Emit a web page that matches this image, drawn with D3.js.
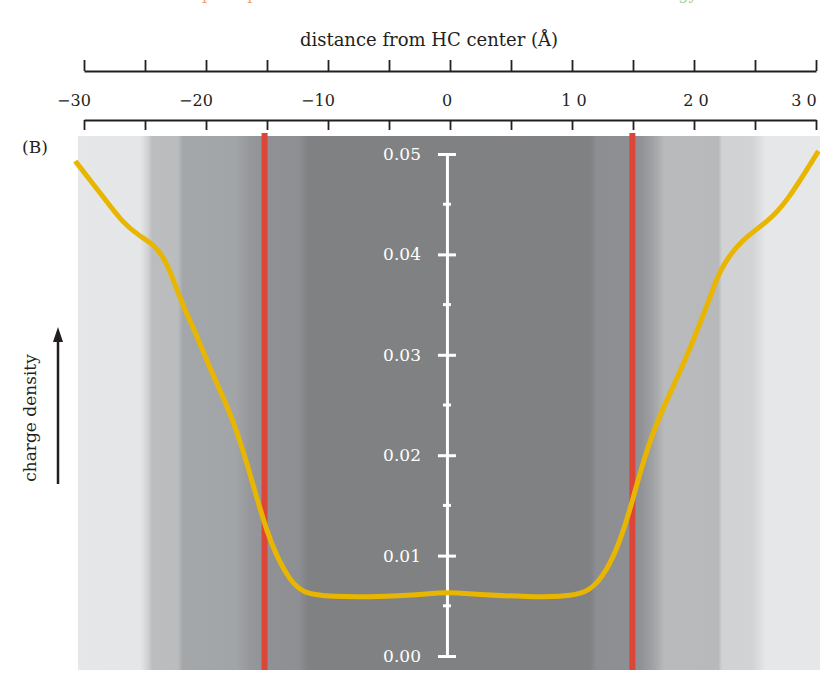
<!DOCTYPE html>
<html>
<head>
<meta charset="utf-8">
<script src="https://d3js.org/d3.v7.min.js"></script>
<style>
  body { margin: 0; background: #fff; }
  svg { display: block; }
  text { font-family: "DejaVu Serif", serif; }
</style>
</head>
<body>
<div class="chart"></div>
<script>
// charge density profile across the HC (distance in Å, density)
var profile = [
  [-30.7, 0.0493], [-30.6, 0.0491], [-28.4, 0.0457], [-26.8, 0.0431], [-25.4, 0.0418],
  [-24.3, 0.0410], [-23.5, 0.0398], [-22.7, 0.0376], [-21.9, 0.0349],
  [-20.7, 0.0318], [-19.7, 0.0287], [-18.3, 0.0250], [-17.5, 0.0225],
  [-16.6, 0.0190], [-15.8, 0.0156], [-15.0, 0.0124], [-14.2, 0.0099],
  [-13.1, 0.0075], [-12.0, 0.0062], [-9.8, 0.0059], [-5.7, 0.0059],
  [-2.5, 0.0061], [-0.8, 0.0063], [0.4, 0.0063], [2.5, 0.0061],
  [6.6, 0.0059], [9.0, 0.0059], [11.2, 0.0062], [12.5, 0.0078],
  [13.7, 0.0106], [14.75, 0.0145], [15.8, 0.0193], [17.0, 0.0235],
  [18.6, 0.0276], [19.9, 0.0313], [21.3, 0.0356], [22.1, 0.0385],
  [23.8, 0.0414], [26.0, 0.0432], [27.6, 0.0452], [30.1, 0.0501], [30.2, 0.0503]
];

// boundary markers (Å)
var boundaries = [-15.2, 14.95];

// shaded background regions: position (Å) and grey level
var bandStops = [
  [-30.5, '#e6e7e9'], [-25.4, '#e5e6e8'], [-24.8, '#d2d3d5'], [-24.4, '#bcbdbf'],
  [-22.3, '#bbbcbe'], [-21.9, '#a4a7aa'], [-17.6, '#a2a5a8'], [-16.4, '#96979a'],
  [-15.4, '#939497'], [-14.9, '#909195'], [-12.4, '#8e8f93'], [-11.6, '#808183'],
  [11.5, '#808183'], [12.0, '#8d8e92'], [14.6, '#8e8f93'], [15.6, '#8f9194'],
  [16.6, '#a0a1a4'], [17.6, '#b9babc'], [22.0, '#b8b9bb'], [22.3, '#d0d2d4'],
  [24.8, '#d1d3d5'], [25.9, '#e6e7e9'], [30.4, '#e6e7e9']
];

var xTicks = d3.range(-30, 31, 5);
var xLabelValues = [-30, -20, -10, 0, 10, 20, 30];
var xLabels = ['\u221230', '\u221220', '\u221210', '0', '1 0', '2 0', '3 0'];
var yTicks = [0, 0.01, 0.02, 0.03, 0.04, 0.05];
var yMinor = [0.005, 0.015, 0.025, 0.035, 0.045];

// cut-off caption fragments at the very top
var topFragments = [
  {text: 'p', x: -19.9, color: '#f4a36c'},
  {text: 'p', x: -16.2, color: '#f4a36c'},
  {text: 'gy', x: 19.5, color: '#a9d18e'}
];

var fullWidth = 820, fullHeight = 678;
var plotTop = 136, plotBottom = 670;

var svg = d3.select('.chart')
  .append('svg')
  .attr('width', fullWidth)
  .attr('height', fullHeight);

var xScale = d3.scaleLinear()
  .domain([-30, 30])
  .range([84, 816]);

var yScale = d3.scaleLinear()
  .domain([0, 0.05])
  .range([656, 154]);

// background gradient
var grad = svg.append('defs')
  .append('linearGradient')
  .attr('id', 'bands')
  .attr('gradientUnits', 'userSpaceOnUse')
  .attr('x1', xScale(-30.5)).attr('x2', xScale(30.4))
  .attr('y1', 0).attr('y2', 0);

grad.selectAll('stop')
  .data(bandStops)
  .enter()
  .append('stop')
  .attr('offset', d => (xScale(d[0]) - xScale(-30.5)) / (xScale(30.4) - xScale(-30.5)))
  .attr('stop-color', d => d[1]);

svg.append('rect')
  .attr('x', xScale(-30.5))
  .attr('y', plotTop)
  .attr('width', xScale(30.4) - xScale(-30.5))
  .attr('height', plotBottom - plotTop)
  .attr('fill', 'url(#bands)');

// top fragments (caption above is cut off in the source)
svg.selectAll('.frag')
  .data(topFragments)
  .enter()
  .append('text')
  .attr('class', 'frag')
  .attr('x', d => xScale(d.x))
  .attr('y', -1)
  .attr('text-anchor', 'middle')
  .style('font-size', '16px')
  .style('fill', d => d.color)
  .text(d => d.text);

// title
svg.append('text')
  .attr('x', 429)
  .attr('y', 46)
  .attr('text-anchor', 'middle')
  .style('font-size', '18px')
  .style('fill', '#231f20')
  .text('distance from HC center (\u00c5)');

// upper ruler (ticks up)
var topAxis = d3.axisTop(xScale)
  .tickValues(xTicks)
  .tickSizeInner(11)
  .tickSizeOuter(0)
  .tickFormat('');

svg.append('g')
  .attr('transform', 'translate(0,71)')
  .call(topAxis)
  .call(g => g.selectAll('path, line').attr('stroke', '#231f20').attr('stroke-width', 1.8));

// lower ruler (ticks down)
var bottomAxis = d3.axisBottom(xScale)
  .tickValues(xTicks)
  .tickSizeInner(10)
  .tickSizeOuter(0)
  .tickFormat('');

svg.append('g')
  .attr('transform', 'translate(0,120)')
  .call(bottomAxis)
  .call(g => g.selectAll('path, line').attr('stroke', '#231f20').attr('stroke-width', 1.8));

// ruler labels
svg.selectAll('.xlab')
  .data(xLabelValues)
  .enter()
  .append('text')
  .attr('class', 'xlab')
  .attr('x', d => xScale(d) + (d < 0 ? -10 : d === 30 ? -12 : d === 0 ? -3 : 2))
  .attr('y', 106)
  .attr('text-anchor', 'middle')
  .style('font-size', '16px')
  .style('fill', '#231f20')
  .text((d, i) => xLabels[i]);

// boundary lines
svg.selectAll('.bound')
  .data(boundaries)
  .enter()
  .append('line')
  .attr('class', 'bound')
  .attr('x1', d => xScale(d)).attr('x2', d => xScale(d))
  .attr('y1', 133).attr('y2', plotBottom)
  .attr('stroke', '#dc4638')
  .attr('stroke-width', 6);

// y axis inside the plot
var yAxisG = svg.append('g')
  .attr('transform', 'translate(' + xScale(-0.25) + ',0)');

yAxisG.call(d3.axisLeft(yScale)
    .tickValues(yTicks)
    .tickSizeInner(8)
    .tickSizeOuter(0)
    .tickPadding(18)
    .tickFormat(d3.format('.2f')));

yAxisG.select('.domain')
  .attr('stroke', '#fff')
  .attr('stroke-width', 3);
yAxisG.selectAll('.tick line')
  .attr('x1', -9).attr('x2', 9)
  .attr('stroke', '#fff')
  .attr('stroke-width', 3);
yAxisG.selectAll('.tick text')
  .style('fill', '#fff')
  .style('font-family', '"DejaVu Serif", serif')
  .style('font-size', '17px');

yAxisG.selectAll('.minor')
  .data(yMinor)
  .enter()
  .append('line')
  .attr('class', 'minor')
  .attr('x1', -4).attr('x2', 4)
  .attr('y1', d => yScale(d)).attr('y2', d => yScale(d))
  .attr('stroke', '#fff')
  .attr('stroke-width', 3);

// density curve
var line = d3.line()
  .x(d => xScale(d[0]))
  .y(d => yScale(d[1]))
  .curve(d3.curveBasis);

svg.append('path')
  .datum(profile)
  .attr('d', line)
  .attr('fill', 'none')
  .attr('stroke', '#e8b600')
  .attr('stroke-width', 5);

// panel label
svg.append('text')
  .attr('x', 22)
  .attr('y', 153)
  .style('font-size', '17px')
  .style('fill', '#231f20')
  .text('(B)');

// y label with arrow
svg.append('text')
  .attr('transform', 'translate(36,418) rotate(-90)')
  .attr('text-anchor', 'middle')
  .style('font-size', '17px')
  .style('fill', '#231f20')
  .text('charge density');

svg.append('line')
  .attr('x1', 58).attr('x2', 58)
  .attr('y1', 484).attr('y2', 340)
  .attr('stroke', '#231f20')
  .attr('stroke-width', 2.5);

svg.append('path')
  .attr('d', 'M58,327 L53,342 L63,342 Z')
  .attr('fill', '#231f20');
</script>
</body>
</html>
